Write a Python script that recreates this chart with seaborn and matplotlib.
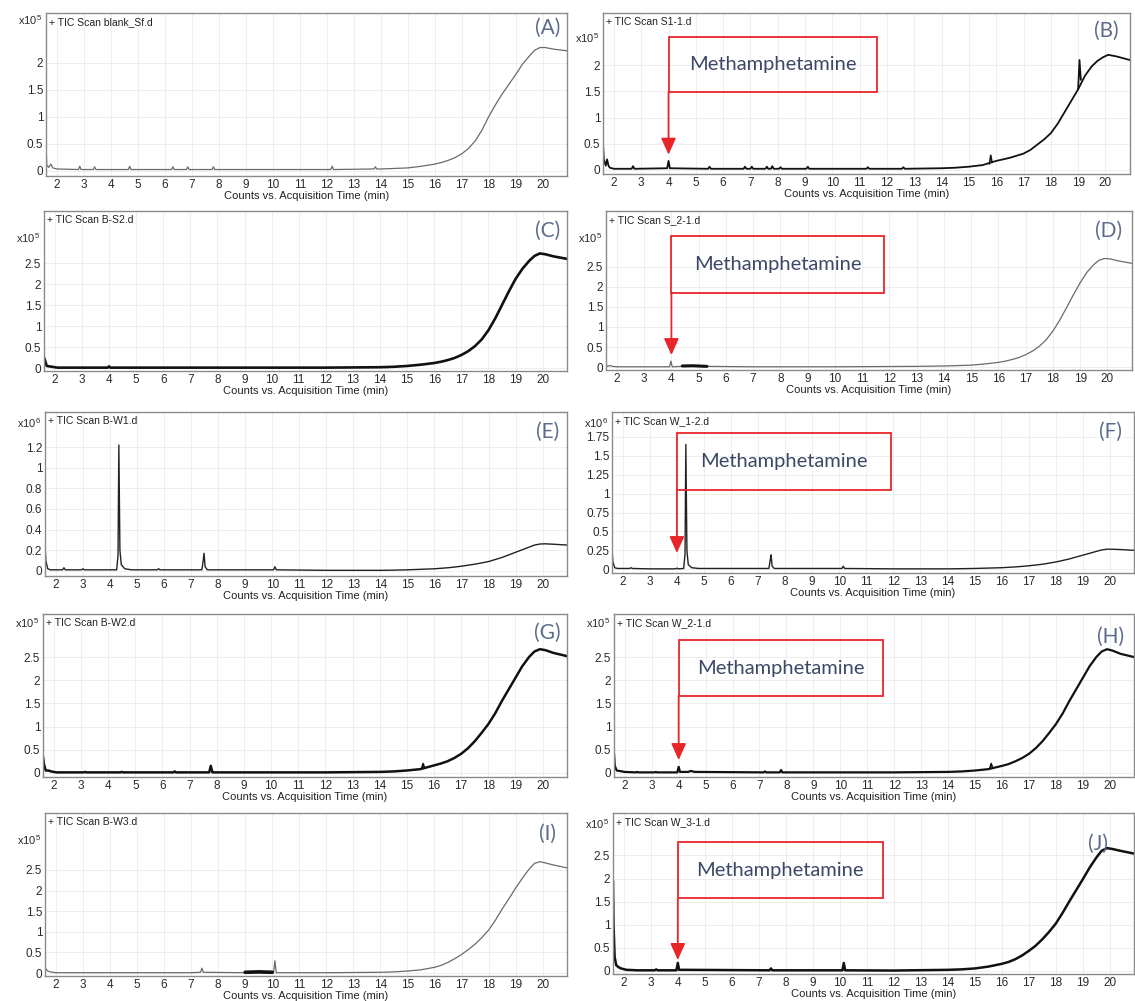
import matplotlib
matplotlib.use('Agg')
import matplotlib.pyplot as plt
import seaborn as sns
from matplotlib.patches import Rectangle

# ---- chromatogram traces (time in min, counts in x10^n) ----
# early part of each run (< 14 min)
a_time = [1.6, 1.63, 1.7, 1.78, 1.85, 2.0, 2.8, 2.85, 2.9, 3.35, 3.4, 3.45, 4.65, 4.7, 4.75,
          6.25, 6.3, 6.35, 6.8, 6.85, 6.9, 7.75, 7.8, 7.85, 12.15, 12.2, 12.25, 13.75, 13.8, 13.85]
a_counts = [0.45, 0.1, 0.06, 0.12, 0.05, 0.03, 0.02, 0.08, 0.02, 0.02, 0.07, 0.02, 0.02, 0.08, 0.02,
            0.02, 0.07, 0.02, 0.02, 0.07, 0.02, 0.02, 0.07, 0.02, 0.02, 0.08, 0.02, 0.03, 0.07, 0.03]

b_time = [1.6, 1.63, 1.7, 1.75, 1.8, 1.85, 2.0, 2.65, 2.7, 2.75, 3.95, 4.0, 4.05, 5.45, 5.5, 5.55,
          6.75, 6.8, 6.85, 7.0, 7.05, 7.1, 7.55, 7.6, 7.65, 7.75, 7.8, 7.85, 8.05, 8.1, 8.15,
          9.05, 9.1, 9.15, 11.25, 11.3, 11.35, 12.55, 12.6, 12.65]
b_counts = [0.5, 0.2, 0.08, 0.2, 0.08, 0.04, 0.02, 0.02, 0.07, 0.02, 0.03, 0.17, 0.03, 0.02, 0.06, 0.02,
            0.02, 0.06, 0.02, 0.02, 0.06, 0.02, 0.02, 0.06, 0.02, 0.02, 0.07, 0.02, 0.02, 0.05, 0.02,
            0.02, 0.06, 0.02, 0.02, 0.05, 0.02, 0.02, 0.05, 0.02]

c_time = [1.6, 1.63, 1.7, 1.8, 1.9, 2.1, 2.5, 3.95, 4.0, 4.05, 6.0, 9.0, 12.0]
c_counts = [0.25, 0.2, 0.05, 0.04, 0.03, 0.01, 0.01, 0.01, 0.04, 0.01, 0.01, 0.01, 0.01]

d_time = [1.6, 1.65, 1.75, 1.85, 2.0, 3.0, 3.93, 3.98, 4.03, 4.4, 5.3, 7.0, 10.0, 13.0]
d_counts = [0.06, 0.02, 0.04, 0.02, 0.01, 0.01, 0.01, 0.15, 0.01, 0.02, 0.02, 0.01, 0.01, 0.02]
d_noise_time = [4.4, 4.8, 5.3]
d_noise_counts = [0.03, 0.035, 0.02]

e_time = [1.6, 1.63, 1.7, 1.8, 2.0, 2.25, 2.3, 2.35, 2.6, 2.95, 3.0, 3.05, 4.25, 4.3, 4.33, 4.37, 4.42,
          4.55, 4.8, 5.75, 5.8, 5.85, 7.4, 7.45, 7.48, 7.52, 7.6, 10.05, 10.1, 10.15, 12.0]
e_counts = [0.25, 0.1, 0.02, 0.01, 0.01, 0.01, 0.03, 0.01, 0.01, 0.01, 0.02, 0.01, 0.01, 0.15, 1.22, 0.2,
            0.06, 0.02, 0.01, 0.01, 0.02, 0.01, 0.01, 0.1, 0.17, 0.04, 0.01, 0.01, 0.04, 0.01, 0.005]

f_time = [1.6, 1.63, 1.7, 1.8, 2.0, 2.25, 2.3, 2.35, 3.0, 3.95, 4.0, 4.05, 4.25, 4.3, 4.33, 4.37, 4.42,
          4.55, 4.8, 7.4, 7.45, 7.48, 7.52, 7.6, 10.1, 10.15, 10.2, 12.0]
f_counts = [0.27, 0.1, 0.02, 0.01, 0.01, 0.01, 0.02, 0.01, 0.005, 0.005, 0.015, 0.005, 0.01, 0.2, 1.65,
            0.25, 0.06, 0.02, 0.01, 0.01, 0.12, 0.19, 0.04, 0.01, 0.01, 0.04, 0.01, 0.005]

g_time = [1.6, 1.63, 1.7, 1.8, 1.9, 2.1, 2.5, 3.1, 3.15, 3.2, 4.45, 4.5, 4.55, 6.4, 6.45, 6.5,
          7.72, 7.78, 7.84, 10.0, 12.0]
g_counts = [0.35, 0.2, 0.05, 0.05, 0.03, 0.01, 0.01, 0.01, 0.02, 0.01, 0.01, 0.02, 0.01, 0.01, 0.03, 0.01,
            0.01, 0.15, 0.01, 0.01, 0.01]

h_time = [1.6, 1.63, 1.7, 1.8, 2.0, 2.4, 2.45, 2.5, 3.1, 3.15, 3.2, 3.95, 4.0, 4.05, 4.35, 4.45, 4.6,
          7.15, 7.2, 7.25, 7.75, 7.8, 7.85, 10.0, 12.0]
h_counts = [0.42, 0.15, 0.05, 0.04, 0.02, 0.01, 0.02, 0.01, 0.01, 0.02, 0.01, 0.01, 0.13, 0.02, 0.02, 0.04,
            0.02, 0.01, 0.03, 0.01, 0.01, 0.06, 0.01, 0.01, 0.01]

i_time = [1.6, 1.63, 1.7, 1.8, 2.0, 3.0, 5.0, 7.0, 7.35, 7.4, 7.45, 9.0, 10.05, 10.1, 10.15, 12.0]
i_counts = [0.15, 0.1, 0.05, 0.03, 0.01, 0.01, 0.01, 0.01, 0.02, 0.12, 0.02, 0.01, 0.01, 0.3, 0.01, 0.01]
i_noise_time = [9.0, 9.5, 10.0]
i_noise_counts = [0.02, 0.03, 0.02]

j_time = [1.6, 1.62, 1.66, 1.72, 1.8, 1.9, 2.1, 2.5, 3.15, 3.2, 3.25, 3.95, 4.0, 4.05, 4.3, 7.4, 7.45,
          7.5, 10.1, 10.15, 10.2, 12.0]
j_counts = [1.95, 1.0, 0.3, 0.12, 0.08, 0.05, 0.02, 0.01, 0.01, 0.03, 0.01, 0.01, 0.17, 0.02, 0.02, 0.01,
            0.05, 0.01, 0.01, 0.17, 0.01, 0.005]

# late part: column-bleed rise shared time grid, one counts list per run
rise_time = [14.0, 14.5, 15.0, 15.5, 16.0, 16.25, 16.5, 16.75, 17.0, 17.25, 17.5, 17.75,
             18.0, 18.25, 18.5, 18.75, 19.0, 19.25, 19.5, 19.7, 19.9, 20.1, 20.4, 20.9]
a_rise = [0.03, 0.04, 0.05, 0.08, 0.12, 0.15, 0.19, 0.24, 0.31, 0.41, 0.55, 0.75,
          1.0, 1.22, 1.42, 1.6, 1.78, 1.97, 2.12, 2.23, 2.28, 2.28, 2.25, 2.22]
b_rise = [0.03, 0.04, 0.06, 0.09, 0.17, 0.2, 0.23, 0.27, 0.31, 0.38, 0.48, 0.58,
          0.7, 0.88, 1.1, 1.32, 1.54, 1.8, 1.98, 2.08, 2.15, 2.2, 2.17, 2.1]
c_rise = [0.02, 0.03, 0.05, 0.08, 0.12, 0.15, 0.19, 0.24, 0.31, 0.4, 0.52, 0.68,
          0.9, 1.18, 1.5, 1.82, 2.12, 2.36, 2.55, 2.67, 2.73, 2.71, 2.66, 2.6]
d_rise = [0.03, 0.04, 0.05, 0.08, 0.12, 0.15, 0.19, 0.24, 0.31, 0.4, 0.52, 0.68,
          0.9, 1.17, 1.48, 1.8, 2.1, 2.36, 2.55, 2.66, 2.7, 2.69, 2.64, 2.58]
e_rise = [0.005, 0.007, 0.01, 0.015, 0.02, 0.025, 0.03, 0.037, 0.045, 0.055, 0.065, 0.077,
          0.09, 0.11, 0.13, 0.155, 0.18, 0.205, 0.23, 0.25, 0.26, 0.262, 0.258, 0.25]
f_rise = [0.005, 0.007, 0.01, 0.015, 0.02, 0.025, 0.03, 0.037, 0.045, 0.055, 0.065, 0.08,
          0.095, 0.115, 0.135, 0.16, 0.185, 0.21, 0.235, 0.255, 0.265, 0.265, 0.26, 0.25]
g_rise = [0.02, 0.03, 0.05, 0.08, 0.16, 0.2, 0.25, 0.32, 0.41, 0.53, 0.68, 0.86,
          1.05, 1.28, 1.55, 1.8, 2.05, 2.3, 2.5, 2.62, 2.67, 2.65, 2.59, 2.52]
h_rise = [0.02, 0.03, 0.05, 0.08, 0.15, 0.19, 0.25, 0.32, 0.41, 0.53, 0.68, 0.86,
          1.05, 1.28, 1.55, 1.8, 2.05, 2.3, 2.5, 2.62, 2.67, 2.64, 2.57, 2.5]
i_rise = [0.02, 0.03, 0.05, 0.08, 0.14, 0.19, 0.26, 0.35, 0.45, 0.57, 0.7, 0.86,
          1.04, 1.28, 1.55, 1.8, 2.06, 2.3, 2.52, 2.66, 2.7, 2.67, 2.62, 2.55]
j_rise = [0.02, 0.03, 0.05, 0.09, 0.15, 0.19, 0.25, 0.33, 0.43, 0.54, 0.68, 0.84,
          1.02, 1.25, 1.5, 1.74, 1.98, 2.23, 2.45, 2.6, 2.66, 2.64, 2.6, 2.54]

# sharp peaks sitting on the rise
b_spike1_time = [15.75, 15.8, 15.85]
b_spike1_counts = [0.11, 0.28, 0.14]
b_spike2_time = [19.0, 19.05, 19.1]
b_spike2_counts = [1.54, 2.1, 1.72]
g_spike_time = [15.55, 15.6, 15.65]
g_spike_counts = [0.1, 0.2, 0.11]
h_spike_time = [15.55, 15.6, 15.65]
h_spike_counts = [0.1, 0.2, 0.11]

sample_names = ['blank_Sf.d', 'S1-1.d', 'B-S2.d', 'S_2-1.d', 'B-W1.d',
                'W_1-2.d', 'B-W2.d', 'W_2-1.d', 'B-W3.d', 'W_3-1.d']
panel_letters = ['A', 'B', 'C', 'D', 'E', 'F', 'G', 'H', 'I', 'J']
exponents = [5, 5, 5, 5, 6, 6, 5, 5, 5, 5]
ticks_5 = [0, 0.5, 1, 1.5, 2]
ticks_25 = [0, 0.5, 1, 1.5, 2, 2.5]
ticks_e = [0, 0.2, 0.4, 0.6, 0.8, 1, 1.2]
ticks_f = [0, 0.25, 0.5, 0.75, 1, 1.25, 1.5, 1.75]
compound = 'Methamphetamine'

# ---- layout (pixels of the 1135x1001 canvas) ----
W, H = 1135, 1001
boxes = [(46, 13, 567, 176), (603, 13, 1130, 174),
         (44, 211, 567, 371), (606, 211, 1132, 370),
         (45, 412, 567, 576), (612, 412, 1134, 573),
         (43, 614, 567, 777), (614, 614, 1134, 777),
         (45, 813, 567, 976), (613, 813, 1134, 974)]

panels = [
    dict(t=a_time, y=a_counts, r=a_rise, ticks=ticks_5, ylim=(-0.1, 2.92), color='#6a6a6a', lw=0.9, mult=0.955, let=(0.962, 0.91)),
    dict(t=b_time, y=b_counts, r=b_rise, ticks=ticks_5, ylim=(-0.08, 3.0), color='#111111', lw=1.3, mult=0.845, let=(0.955, 0.89)),
    dict(t=c_time, y=c_counts, r=c_rise, ticks=ticks_25, ylim=(-0.07, 3.74), color='#111111', lw=1.9, mult=0.83, let=(0.962, 0.875)),
    dict(t=d_time, y=d_counts, r=d_rise, ticks=ticks_25, ylim=(-0.07, 3.88), color='#6a6a6a', lw=0.9, mult=0.83, let=(0.955, 0.875)),
    dict(t=e_time, y=e_counts, r=e_rise, ticks=ticks_e, ylim=(-0.05, 1.54), color='#222222', lw=1.0, mult=0.93, let=(0.962, 0.878)),
    dict(t=f_time, y=f_counts, r=f_rise, ticks=ticks_f, ylim=(-0.05, 2.08), color='#222222', lw=1.0, mult=0.93, let=(0.955, 0.876)),
    dict(t=g_time, y=g_counts, r=g_rise, ticks=ticks_25, ylim=(-0.09, 3.43), color='#111111', lw=1.8, mult=0.945, let=(0.962, 0.883)),
    dict(t=h_time, y=h_counts, r=h_rise, ticks=ticks_25, ylim=(-0.09, 3.43), color='#111111', lw=1.6, mult=0.945, let=(0.955, 0.86)),
    dict(t=i_time, y=i_counts, r=i_rise, ticks=ticks_25, ylim=(-0.07, 3.88), color='#6a6a6a', lw=0.9, mult=0.835, let=(0.962, 0.87)),
    dict(t=j_time, y=j_counts, r=j_rise, ticks=ticks_25, ylim=(-0.07, 3.42), color='#111111', lw=1.8, mult=0.93, let=(0.93, 0.81)),
]
extras = {1: [(b_spike1_time, b_spike1_counts, 1.1), (b_spike2_time, b_spike2_counts, 1.3)],
          3: [(d_noise_time, d_noise_counts, 2.2)],
          6: [(g_spike_time, g_spike_counts, 1.2)],
          7: [(h_spike_time, h_spike_counts, 1.2)],
          8: [(i_noise_time, i_noise_counts, 2.6)]}
# red call-out boxes: (x right in min, y top, y bottom, arrow tip in axes fraction)
callouts = {1: (11.65, 0.85, 0.51, 0.12), 3: (11.8, 0.843, 0.484, 0.094),
            5: (11.9, 0.87, 0.516, 0.124), 7: (11.6, 0.84, 0.497, 0.104),
            9: (11.6, 0.82, 0.47, 0.087)}

sns.set_theme(style='white')
plt.rcParams['font.family'] = ['Liberation Sans', 'DejaVu Sans']
plt.rcParams['mathtext.default'] = 'regular'

fig = plt.figure(figsize=(W / 100, H / 100), dpi=100)
red = '#e8262a'
ink = '#3c4866'

for k, p in enumerate(panels):
    x0, y0, x1, y1 = boxes[k]
    ax = fig.add_axes([x0 / W, 1 - y1 / H, (x1 - x0) / W, (y1 - y0) / H])
    sns.lineplot(x=p['t'] + rise_time, y=p['y'] + p['r'], ax=ax, color=p['color'],
                 linewidth=p['lw'], estimator=None, sort=False)
    for tx, ty, lw in extras.get(k, []):
        sns.lineplot(x=tx, y=ty, ax=ax, color='#111111', linewidth=lw, estimator=None, sort=False)

    ax.set_xlim(1.6, 20.9)
    ax.set_ylim(*p['ylim'])
    ax.set_xticks(range(2, 21))
    ax.set_yticks(p['ticks'])
    ax.set_yticklabels(['{:g}'.format(v) for v in p['ticks']])
    ax.tick_params(length=0, pad=2, labelsize=8.5, colors='#2a2a2a')
    ax.grid(True, color='#ebebeb', linewidth=0.6)
    for s in ax.spines.values():
        s.set_color('#8a8a8a')
        s.set_linewidth(1.0)
    ax.set_xlabel('Counts vs. Acquisition Time (min)', fontsize=8, labelpad=0, color='#222222')
    ax.set_ylabel('')

    ax.text(-0.008, p['mult'], 'x10$^{%d}$' % exponents[k], transform=ax.transAxes,
            ha='right', va='center', fontsize=8, color='#2a2a2a')
    ax.text(0.006, 0.945, '+ TIC Scan ' + sample_names[k], transform=ax.transAxes,
            ha='left', va='center', fontsize=7.5, color='#222222')
    ax.text(p['let'][0], p['let'][1], '(%s)' % panel_letters[k], transform=ax.transAxes,
            ha='center', va='center', fontsize=15, color='#5d6c8c', family=['Lato', 'DejaVu Sans'])

    if k in callouts:
        xr, yt, yb, tip = callouts[k]
        tr = ax.get_xaxis_transform()
        ax.add_patch(Rectangle((4.0, yb), xr - 4.0, yt - yb, transform=tr, fill=False,
                               edgecolor=red, linewidth=1.3, zorder=5))
        ax.text((4.0 + xr) / 2, (yt + yb) / 2, compound, transform=tr, ha='center', va='center',
                fontsize=14.5, color=ink, family=['Lato', 'DejaVu Sans'], zorder=6)
        ax.annotate('', xy=(4.0, tip), xytext=(4.0, yb), xycoords=tr, textcoords=tr,
                    arrowprops=dict(arrowstyle='-|>,head_length=1.0,head_width=0.45', color=red,
                                    lw=1.3, shrinkA=0, shrinkB=0, mutation_scale=10), zorder=6)

fig.savefig('out.png', dpi=100)
